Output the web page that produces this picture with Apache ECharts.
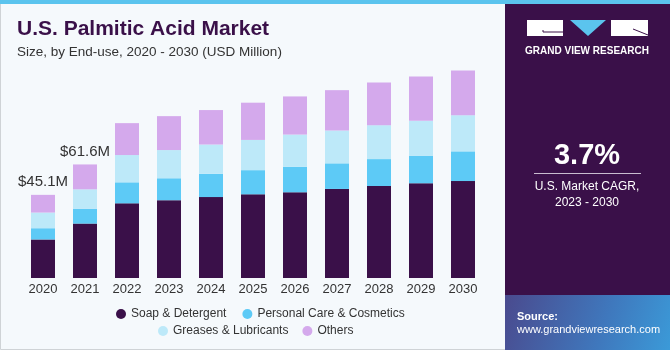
<!DOCTYPE html>
<html>
<head>
<meta charset="utf-8">
<script src="https://cdn.jsdelivr.net/npm/echarts@6/dist/echarts.min.js"></script>
<style>
  html, body { margin: 0; padding: 0; background: #f5f9fc; }
  #chart { width: 670px; height: 350px; }
</style>
</head>
<body>
<div id="chart"></div>
<script>
var chart = echarts.init(document.getElementById('chart'));

// data (USD Million)
const years = ['2020', '2021', '2022', '2023', '2024', '2025', '2026', '2027', '2028', '2029', '2030'];
const soap = [20.9, 29.5, 40.5, 42.2, 43.9, 45.4, 46.5, 48.3, 49.9, 51.4, 52.6];
const personal = [6.1, 8.1, 11.4, 11.9, 12.6, 13.1, 13.8, 13.9, 14.6, 14.8, 16.1];
const greases = [8.5, 10.5, 14.8, 15.3, 15.9, 16.4, 17.5, 17.8, 18.4, 19.1, 19.6];
const others = [9.6, 13.5, 17.3, 18.4, 18.7, 20.2, 20.7, 21.9, 23.1, 24.0, 24.2];
const totalLabels = ['$45.1M', '$61.6M'];

const colors = ['#3a1049', '#5dcaf6', '#bde9f9', '#d4a9ec'];
const font = '"Liberation Sans", Arial, sans-serif';

function bar(name, data, color) {
  return {
    name: name,
    type: 'bar',
    stack: 'total',
    data: data,
    barWidth: 24,
    itemStyle: { color: color },
    emphasis: { disabled: true }
  };
}

var othersSeries = bar('Others', others, colors[3]);
othersSeries.label = {
  show: true,
  position: 'top',
  distance: 5,
  fontFamily: font,
  fontSize: 15,
  color: '#333',
  formatter: function (p) {
    return totalLabels[p.dataIndex] || '';
  }
};

var legendText = { fontFamily: font, fontSize: 12, color: '#333' };

var options = {
  backgroundColor: '#f5f9fc',
  animation: false,
  title: {
    text: 'U.S. Palmitic Acid Market',
    subtext: 'Size, by End-use, 2020 - 2030 (USD Million)',
    left: 12,
    top: 14,
    itemGap: 5,
    textStyle: { fontFamily: font, fontSize: 21, fontWeight: 900, color: '#3a1049' },
    subtextStyle: { fontFamily: font, fontSize: 13.5, color: '#333' }
  },
  legend: [{
    data: ['Soap & Detergent', 'Personal Care & Cosmetics'],
    left: 111,
    top: 303,
    icon: 'circle',
    itemWidth: 10,
    itemHeight: 10,
    itemGap: 16,
    textStyle: legendText
  }, {
    data: ['Greases & Lubricants', 'Others'],
    left: 153,
    top: 320,
    icon: 'circle',
    itemWidth: 10,
    itemHeight: 10,
    itemGap: 14,
    textStyle: legendText
  }],
  grid: { left: 22, right: 186, top: 66, bottom: 72 },
  xAxis: {
    type: 'category',
    data: years,
    axisLine: { show: false },
    axisTick: { show: false },
    axisLabel: { fontFamily: font, fontSize: 13, color: '#333', margin: 5 }
  },
  yAxis: {
    type: 'value',
    min: 0,
    max: 115,
    show: false,
    splitLine: { show: false }
  },
  series: [
    bar('Soap & Detergent', soap, colors[0]),
    bar('Personal Care & Cosmetics', personal, colors[1]),
    bar('Greases & Lubricants', greases, colors[2]),
    othersSeries
  ],
  graphic: [
    // top stripe
    { type: 'rect', shape: { x: 0, y: 0, width: 670, height: 4 }, style: { fill: '#5bc4ee' }, z: 10 },
    // right panel
    { type: 'rect', shape: { x: 505, y: 4, width: 165, height: 291 }, style: { fill: '#3a1049' }, z: 1 },
    // source box
    {
      type: 'rect', shape: { x: 505, y: 295, width: 165, height: 55 }, z: 1,
      style: {
        fill: new echarts.graphic.LinearGradient(0, 0, 1, 1, [
          { offset: 0, color: '#4a4a8e' },
          { offset: 0.6, color: '#3f78bd' },
          { offset: 1, color: '#3b9ad8' }
        ])
      }
    },
    // logo
    { type: 'rect', shape: { x: 527, y: 20, width: 36, height: 16 }, style: { fill: '#fff' }, z: 2 },
    { type: 'polyline', shape: { points: [[543, 30], [543, 32], [563, 32]] }, style: { stroke: '#3a1049', lineWidth: 1, fill: null }, z: 3 },
    { type: 'polygon', shape: { points: [[570, 20], [606, 20], [588, 36]] }, style: { fill: '#5bc4ee' }, z: 2 },
    { type: 'rect', shape: { x: 611, y: 20, width: 37, height: 16 }, style: { fill: '#fff' }, z: 2 },
    { type: 'line', shape: { x1: 633, y1: 29, x2: 648, y2: 35 }, style: { stroke: '#3a1049', lineWidth: 1 }, z: 3 },
    {
      type: 'text', x: 587, y: 51, z: 2,
      style: { text: 'GRAND VIEW RESEARCH', fill: '#fff', font: 'bold 10px ' + font, textAlign: 'center', textVerticalAlign: 'middle' }
    },
    // CAGR
    {
      type: 'text', x: 587, y: 156, z: 2,
      style: { text: '3.7%', fill: '#fff', font: 'bold 29px ' + font, textAlign: 'center', textVerticalAlign: 'middle' }
    },
    { type: 'line', shape: { x1: 534, y1: 173.5, x2: 641, y2: 173.5 }, style: { stroke: '#c9bcd0', lineWidth: 1 }, z: 2 },
    {
      type: 'text', x: 587, y: 187, z: 2,
      style: { text: 'U.S. Market CAGR,', fill: '#fff', font: '12px ' + font, textAlign: 'center', textVerticalAlign: 'middle' }
    },
    {
      type: 'text', x: 587, y: 203, z: 2,
      style: { text: '2023 - 2030', fill: '#fff', font: '12px ' + font, textAlign: 'center', textVerticalAlign: 'middle' }
    },
    // source
    {
      type: 'text', x: 517, y: 317, z: 2,
      style: { text: 'Source:', fill: '#fff', font: 'bold 11px ' + font, textVerticalAlign: 'middle' }
    },
    {
      type: 'text', x: 517, y: 330, z: 2,
      style: { text: 'www.grandviewresearch.com', fill: '#fff', font: '11px ' + font, textVerticalAlign: 'middle' }
    },
    // outer border
    { type: 'rect', shape: { x: 0.5, y: 0.5, width: 669, height: 349 }, style: { fill: null, stroke: '#cfd3d6', lineWidth: 1 }, z: 0 }
  ]
};

chart.setOption(options);
</script>
</body>
</html>
